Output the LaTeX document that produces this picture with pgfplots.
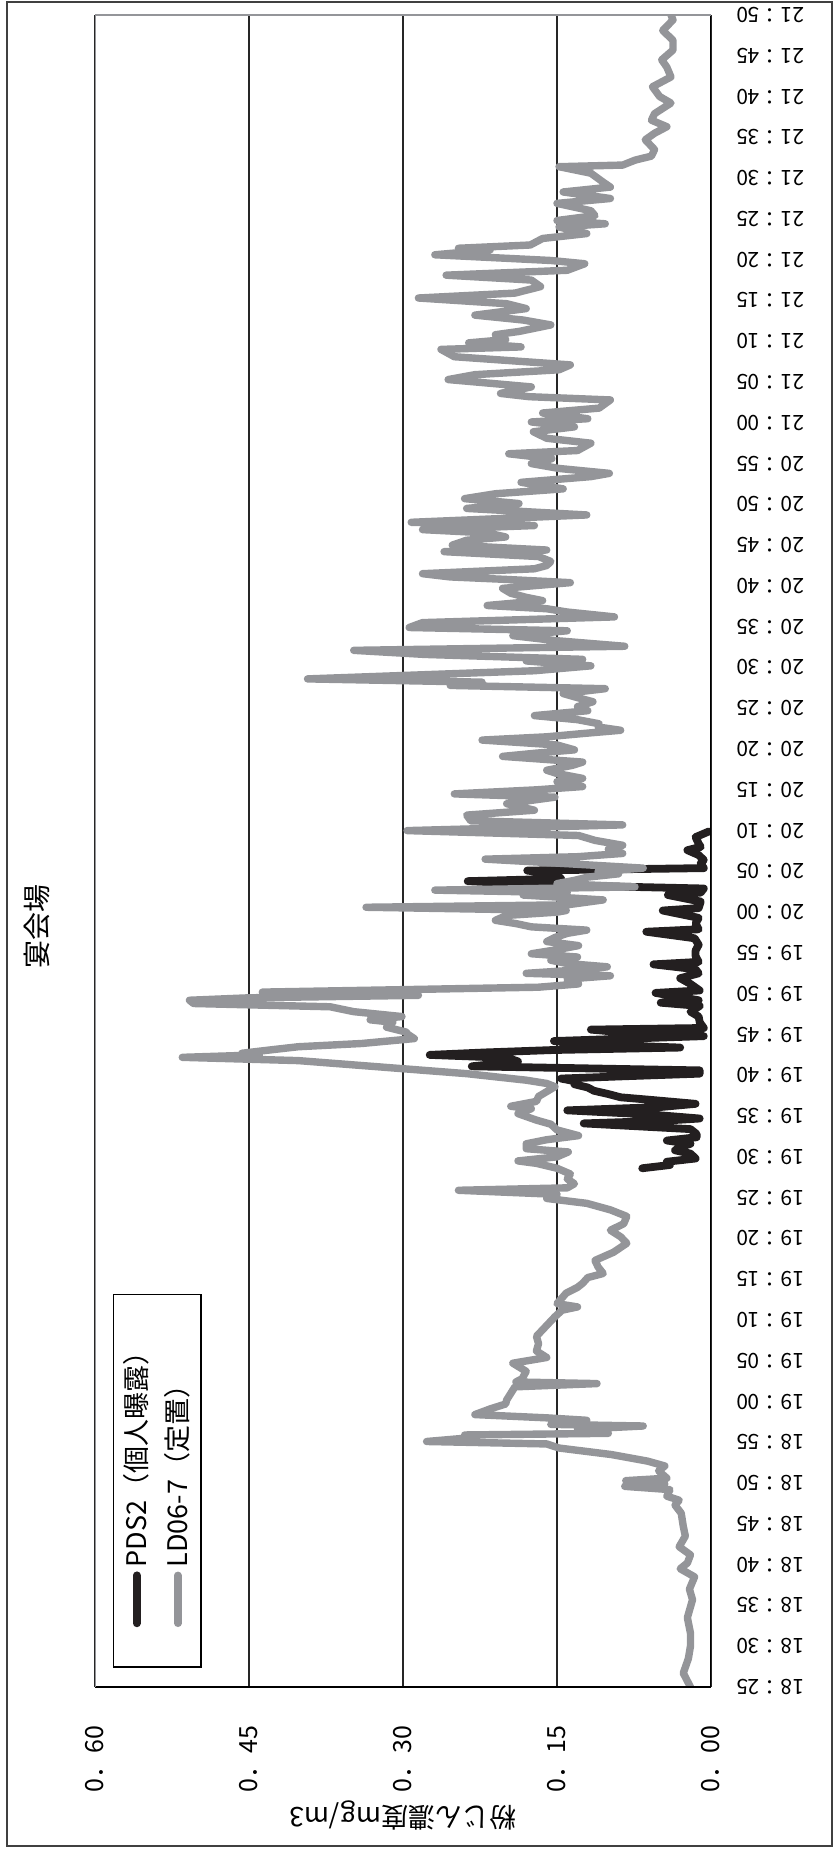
\documentclass[border=0pt]{standalone}
\usepackage{fontspec}
\setmainfont{Noto Sans CJK JP}
\usepackage{pgfplots}
\pgfplotsset{compat=1.18}
\definecolor{lgray}{RGB}{148,149,153}
\definecolor{dblack}{RGB}{35,31,32}
\begin{document}
\begin{tikzpicture}[rotate=90, transform shape]
\path (-83.5pt,-61.5pt) rectangle (843.5pt,355.5pt);
\draw[line width=1pt, black!75] (-79.5pt,-60.5pt) rectangle (842.5pt,352pt);
\begin{axis}[
  at={(0,0)}, anchor=south west,
  scale only axis, width=836pt, height=308pt,
  xmin=0, xmax=205, ymin=0, ymax=0.6,
  axis line style={draw=none},
  xtick={0,5,...,205},
  xticklabels={18：25,18：30,18：35,18：40,18：45,18：50,18：55,19：00,19：05,19：10,19：15,19：20,19：25,19：30,19：35,19：40,19：45,19：50,19：55,20：00,20：05,20：10,20：15,20：20,20：25,20：30,20：35,20：40,20：45,20：50,20：55,21：00,21：05,21：10,21：15,21：20,21：25,21：30,21：35,21：40,21：45,21：50},
  ytick={0,0.15,0.3,0.45,0.6},
  yticklabels={0．00,0．15,0．30,0．45,0．60},
  major tick length=0pt,
  ymajorgrids, grid style={black!85, line width=0.7pt},
  xticklabel style={rotate=90, anchor=east, inner sep=0pt, font=\fontsize{10.5}{12}\selectfont},
  yticklabel style={anchor=east, inner sep=0pt, font=\fontsize{12.5}{14}\selectfont},
  xticklabel shift=12.5pt,
  yticklabel shift=19pt,
  title={宴会場},
  title style={at={(axis description cs:0.455,1.0747)}, anchor=center, font=\fontsize{14}{16}\selectfont},
  ylabel={粉じん濃度mg/m3},
  ylabel style={at={(axis description cs:-0.0766,0.5)}, anchor=center, font=\fontsize{13.5}{16}\selectfont},
  legend style={at={(axis description cs:0.01136,0.971)}, anchor=north west, draw=black, line width=0.8pt,
    font=\fontsize{13.5}{15}\selectfont, inner xsep=20pt, inner ysep=3pt, row sep=3.5pt, fill=white},
  legend cell align=left,
  legend image code/.code={\draw[#1] (0pt,0pt) -- (24pt,0pt);},
  every axis plot/.append style={line join=round, line cap=round},
]
\addplot[dblack, line width=3.9pt] table[row sep=\\] {
x y\\
63.6 0.067\\ 64.0 0.040\\ 64.4 0.043\\ 64.8 0.015\\ 65.4 0.020\\ 65.8 0.035\\ 66.2 0.030\\ 66.6 0.020\\
67.0 0.043\\ 67.4 0.014\\ 67.8 0.014\\ 68.4 0.020\\ 69.1 0.124\\ 69.4 0.050\\ 69.7 0.011\\ 70.2 0.060\\
70.7 0.140\\ 71.1 0.050\\ 71.5 0.015\\ 72.0 0.060\\ 72.3 0.088\\ 72.7 0.100\\ 73.1 0.114\\ 73.5 0.120\\
73.9 0.133\\ 74.2 0.130\\ 74.6 0.146\\ 74.9 0.080\\ 75.2 0.011\\ 75.6 0.011\\ 76.1 0.233\\ 76.4 0.210\\
76.7 0.188\\ 77.0 0.195\\ 77.2 0.210\\ 77.5 0.274\\ 77.8 0.220\\ 78.1 0.153\\ 78.4 0.030\\ 78.8 0.120\\
79.2 0.153\\ 79.8 0.007\\ 80.2 0.080\\ 80.6 0.117\\ 80.8 0.007\\ 81.5 0.011\\ 82.2 0.012\\ 82.8 0.020\\
83.5 0.011\\ 83.9 0.049\\ 84.2 0.012\\ 85.1 0.054\\ 85.4 0.011\\ 86.2 0.020\\ 86.9 0.030\\ 87.5 0.012\\
88.0 0.015\\ 88.6 0.056\\ 88.9 0.012\\ 89.6 0.015\\ 90.3 0.015\\ 91.0 0.012\\ 91.8 0.016\\ 92.6 0.063\\
92.9 0.012\\ 93.6 0.015\\ 94.3 0.012\\ 95.2 0.047\\ 95.5 0.012\\ 96.3 0.010\\ 97.1 0.042\\ 97.4 0.010\\
97.9 0.007\\ 98.3 0.150\\ 98.8 0.237\\ 99.1 0.146\\ 99.6 0.150\\ 100.1 0.179\\ 100.4 0.007\\ 101.0 0.010\\
101.4 0.007\\ 102.0 0.012\\ 102.6 0.023\\ 103.0 0.010\\ 103.4 0.012\\ 104.2 0.015\\ 104.9 0.002\\
};
\addlegendentry{PDS2（個人曝露）}
\addplot[lgray, line width=3.7pt] table[row sep=\\] {
x y\\
0 0.020\\ 1.7 0.027\\ 3.5 0.022\\ 5 0.020\\ 6.6 0.020\\ 8.5 0.023\\ 10.7 0.018\\ 12 0.021\\
13.5 0.016\\ 14.5 0.030\\ 15.2 0.023\\ 16.2 0.020\\ 17.2 0.031\\ 18.5 0.025\\ 19.7 0.027\\ 21.3 0.029\\
22.3 0.035\\ 22.9 0.031\\ 23.4 0.043\\ 24.2 0.040\\ 24.6 0.084\\ 24.9 0.045\\ 25.3 0.083\\ 25.6 0.043\\
26.5 0.051\\ 27.1 0.045\\ 27.7 0.062\\ 28.5 0.097\\ 29.3 0.148\\ 29.8 0.160\\ 30.1 0.277\\ 30.5 0.240\\
30.9 0.240\\ 31.1 0.100\\ 31.6 0.130\\ 32.0 0.066\\ 32.2 0.156\\ 32.7 0.121\\ 33.0 0.160\\ 33.4 0.230\\
34.1 0.215\\ 34.7 0.200\\ 35.2 0.199\\ 36.0 0.195\\ 36.8 0.191\\ 37.2 0.111\\ 37.4 0.190\\ 37.8 0.184\\
38.7 0.180\\ 39.7 0.193\\ 40.4 0.160\\ 41.2 0.170\\ 42.1 0.168\\ 43.0 0.170\\ 43.8 0.164\\ 44.6 0.158\\
45.4 0.152\\ 46.2 0.145\\ 46.6 0.130\\ 47.0 0.150\\ 48.3 0.141\\ 49.0 0.130\\ 49.5 0.125\\ 50.2 0.120\\
50.7 0.105\\ 51.5 0.110\\ 52.3 0.113\\ 53.3 0.095\\ 54.4 0.082\\ 55.2 0.088\\ 56.0 0.098\\ 56.8 0.085\\
57.7 0.082\\ 58.5 0.098\\ 59.3 0.121\\ 59.9 0.160\\ 60.4 0.150\\ 60.9 0.246\\ 61.2 0.140\\ 61.7 0.133\\
62.3 0.140\\ 62.9 0.137\\ 63.6 0.150\\ 64.2 0.170\\ 64.5 0.188\\ 65.0 0.150\\ 65.6 0.139\\ 66.0 0.180\\
66.6 0.180\\ 67.1 0.160\\ 67.6 0.129\\ 68.3 0.150\\ 69.0 0.156\\ 69.5 0.170\\ 70.3 0.188\\ 70.9 0.175\\
71.2 0.195\\ 71.8 0.170\\ 72.4 0.168\\ 73.0 0.160\\ 73.6 0.152\\ 74.0 0.160\\ 74.4 0.180\\ 75.2 0.238\\
76.0 0.320\\ 76.8 0.402\\ 77.2 0.515\\ 77.5 0.440\\ 77.7 0.457\\ 78.1 0.430\\ 78.5 0.402\\ 78.9 0.340\\
79.5 0.289\\ 80.0 0.295\\ 80.3 0.297\\ 80.9 0.316\\ 81.5 0.310\\ 81.8 0.332\\ 82.2 0.301\\ 82.8 0.348\\
83.4 0.371\\ 83.8 0.504\\ 84.2 0.508\\ 84.5 0.450\\ 84.8 0.285\\ 85.2 0.437\\ 85.5 0.300\\ 85.8 0.168\\
86.2 0.129\\ 86.8 0.140\\ 87.2 0.098\\ 87.5 0.180\\ 88.0 0.120\\ 88.3 0.101\\ 88.7 0.140\\ 89.1 0.156\\
89.5 0.130\\ 89.9 0.175\\ 90.4 0.150\\ 90.9 0.129\\ 91.4 0.160\\ 91.9 0.152\\ 92.4 0.140\\ 92.8 0.121\\
93.2 0.175\\ 93.6 0.190\\ 94.0 0.210\\ 94.6 0.199\\ 95.0 0.150\\ 95.2 0.141\\ 95.6 0.336\\ 95.9 0.140\\
96.5 0.105\\ 97.1 0.183\\ 97.4 0.140\\ 97.7 0.269\\ 98.1 0.074\\ 98.5 0.150\\ 98.9 0.133\\ 99.3 0.120\\
99.7 0.090\\ 100.0 0.110\\ 100.4 0.066\\ 101.0 0.148\\ 101.5 0.220\\ 101.8 0.130\\ 102.2 0.086\\ 102.7 0.100\\
103.2 0.086\\ 103.8 0.113\\ 104.4 0.129\\ 105.0 0.296\\ 105.7 0.086\\ 106.2 0.234\\ 106.9 0.238\\ 107.5 0.172\\
108.3 0.199\\ 109.1 0.152\\ 109.5 0.250\\ 110.0 0.170\\ 110.4 0.125\\ 111.0 0.150\\ 111.4 0.125\\ 112.0 0.150\\
112.4 0.160\\ 113.0 0.135\\ 113.4 0.125\\ 114.1 0.203\\ 114.5 0.170\\ 114.9 0.133\\ 115.5 0.150\\ 116.1 0.223\\
116.5 0.160\\ 116.9 0.125\\ 117.3 0.088\\ 117.7 0.110\\ 118.1 0.109\\ 118.6 0.130\\ 119.1 0.172\\ 119.7 0.120\\
120.2 0.130\\ 120.8 0.115\\ 121.3 0.130\\ 121.8 0.144\\ 122.4 0.103\\ 122.8 0.254\\ 123.2 0.223\\ 123.6 0.393\\
124.2 0.260\\ 124.6 0.172\\ 125.2 0.117\\ 125.8 0.180\\ 126.0 0.125\\ 126.6 0.279\\ 127.1 0.348\\ 127.6 0.084\\
128.3 0.152\\ 128.9 0.193\\ 129.5 0.140\\ 129.9 0.294\\ 130.5 0.281\\ 131.2 0.094\\ 131.8 0.140\\ 132.2 0.160\\
132.6 0.218\\ 133.2 0.164\\ 133.6 0.180\\ 134.1 0.195\\ 134.7 0.203\\ 135.4 0.137\\ 135.8 0.200\\ 136.1 0.254\\
136.5 0.281\\ 137.1 0.172\\ 137.5 0.160\\ 138.0 0.156\\ 138.6 0.168\\ 139.2 0.260\\ 139.4 0.160\\ 140.0 0.252\\
140.6 0.238\\ 141.0 0.200\\ 141.5 0.218\\ 141.9 0.281\\ 142.4 0.172\\ 142.8 0.292\\ 143.7 0.121\\ 144.5 0.238\\
145.1 0.187\\ 145.7 0.240\\ 146.3 0.210\\ 146.9 0.144\\ 147.7 0.185\\ 148.4 0.117\\ 148.8 0.099\\ 149.4 0.148\\
150.0 0.175\\ 150.6 0.155\\ 151.2 0.197\\ 151.6 0.130\\ 152.5 0.117\\ 153.1 0.160\\ 153.9 0.173\\ 154.5 0.133\\
155.1 0.175\\ 155.5 0.120\\ 156.2 0.164\\ 156.8 0.109\\ 157.8 0.098\\ 158.2 0.177\\ 158.6 0.205\\ 159.4 0.175\\
160.3 0.256\\ 160.9 0.230\\ 161.5 0.148\\ 162.1 0.137\\ 163.1 0.250\\ 164.0 0.263\\ 164.3 0.185\\ 164.8 0.236\\
165.2 0.200\\ 165.8 0.210\\ 166.2 0.187\\ 167.0 0.156\\ 167.6 0.183\\ 168.2 0.230\\ 169.0 0.180\\ 169.6 0.199\\
170.3 0.285\\ 170.9 0.191\\ 171.7 0.166\\ 172.5 0.175\\ 173.1 0.258\\ 173.7 0.140\\ 174.5 0.123\\ 174.9 0.156\\
175.6 0.269\\ 176.2 0.215\\ 176.4 0.246\\ 176.8 0.176\\ 177.6 0.164\\ 178.2 0.121\\ 179.0 0.148\\ 179.4 0.103\\
179.8 0.150\\ 180.4 0.113\\ 181.0 0.117\\ 181.9 0.150\\ 182.5 0.098\\ 183.3 0.144\\ 183.9 0.098\\ 184.5 0.105\\
185.6 0.117\\ 186.4 0.148\\ 186.6 0.086\\ 187.2 0.074\\ 187.7 0.058\\ 188.5 0.055\\ 189.7 0.064\\ 190.5 0.055\\
191.3 0.043\\ 192.1 0.058\\ 192.9 0.055\\ 194.2 0.039\\ 195.0 0.050\\ 196.2 0.057\\ 197.4 0.039\\ 198.6 0.043\\
199.5 0.048\\ 200.7 0.037\\ 201.9 0.037\\ 203.1 0.047\\ 204.4 0.037\\ 205.0 0.039\\
};
\addlegendentry{LD06-7（定置）}
\draw[black, line width=1pt] (rel axis cs:0,1) -- (rel axis cs:0,0) -- (rel axis cs:1,0);
\draw[lgray, line width=1pt] (rel axis cs:0,1) -- (rel axis cs:1,1) -- (rel axis cs:1,0);
\end{axis}
\end{tikzpicture}
\end{document}
